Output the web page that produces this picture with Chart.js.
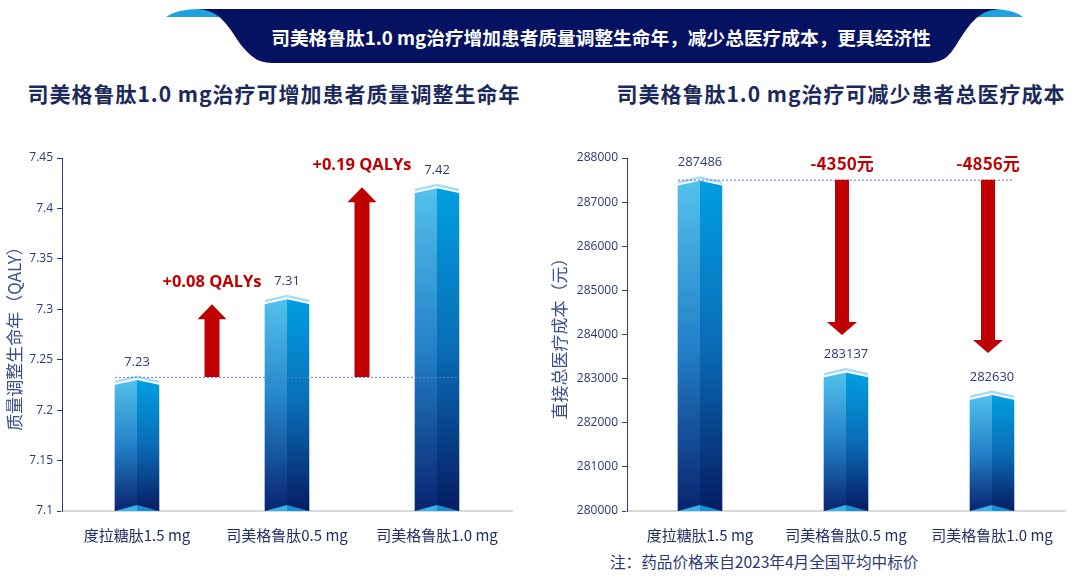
<!DOCTYPE html>
<html>
<head>
<meta charset="utf-8">
<script src="https://cdn.jsdelivr.net/npm/chart.js@4.4.1/dist/chart.umd.min.js"></script>
<style>
body{margin:0;background:#fff;width:1080px;height:582px;position:relative;overflow:hidden;font-family:"Noto Sans CJK SC",sans-serif;}
#banner{position:absolute;left:0;top:0}
.banner-text{position:absolute;left:0;width:1202px;top:24px;text-align:center;color:#fff;font-weight:bold;font-size:18.7px;line-height:26px;}
.title{position:absolute;top:78px;font-weight:bold;font-size:21px;letter-spacing:1px;color:#1b2a5c;line-height:30px;white-space:nowrap;text-align:center;}
.note{position:absolute;left:610px;top:550px;font-size:15.6px;color:#2b3a74;line-height:22px;}
canvas{position:absolute;}
</style>
</head>
<body>
<svg id="banner" width="1080" height="70">
  <path d="M166,17 Q178,8 205,9 L225,17 Z" fill="#1fa3e0"/>
  <path d="M1023,17 Q1012,8 985,9 L965,17 Z" fill="#1fa3e0"/>
  <path d="M198,9 L1000,9 C976,10 968,28 958,42 C950,55 945,63 925,63 L272,63 C256,63 250,55 241,45 C229,28 222,11 198,9 Z" fill="#041261"/>
</svg>
<div class="banner-text">司美格鲁肽1.0 mg治疗增加患者质量调整生命年，减少总医疗成本，更具经济性</div>
<div class="title" style="left:0;width:548px;">司美格鲁肽1.0 mg治疗可增加患者质量调整生命年</div>
<div class="title" style="left:600px;width:482px;">司美格鲁肽1.0 mg治疗可减少患者总医疗成本</div>
<canvas id="qaly" width="530" height="420" style="left:0;top:130px"></canvas>
<canvas id="cost" width="540" height="420" style="left:540px;top:130px"></canvas>
<div class="note">注：药品价格来自2023年4月全国平均中标价</div>

<script>
const categories = ['度拉糖肽1.5 mg', '司美格鲁肽0.5 mg', '司美格鲁肽1.0 mg'];
const qalyValues = [7.23, 7.31, 7.42];
const costValues = [287486, 283137, 282630];
const qalyGains = ['+0.08 QALYs', '+0.19 QALYs'];
const qalyArrowEnds = [7.305, 7.421];
const costSavings = ['-4350元', '-4856元'];
const costArrowEnds = [283990, 283580];

const CJK = '"Noto Sans CJK SC", sans-serif';
const NUM = '"Open Sans", sans-serif';
const NAVY = '#2b3a74';
const RED = '#c00000';

// left half of each bar, gradient from its own top to the axis
function barFill(c) {
    const chart = c.chart;
    const area = chart.chartArea;
    if (!area) return '#1a8ad4';
    const y = chart.scales.y.getPixelForValue(c.raw);
    const g = chart.ctx.createLinearGradient(0, y, 0, area.bottom);
    g.addColorStop(0, '#52c1ec');
    g.addColorStop(0.5, '#2381c8');
    g.addColorStop(1, '#0a2470');
    return g;
}

// right half shading, chevron cap, bottom notch and value label
const barDeco = {
    id: 'barDeco',
    afterDatasetsDraw(chart) {
        const ctx = chart.ctx;
        const meta = chart.getDatasetMeta(0);
        const values = chart.data.datasets[0].data;
        const bottom = chart.chartArea.bottom;
        meta.data.forEach((bar, i) => {
            const x = bar.x, y = bar.y, w = bar.width;
            const base = Math.min(bar.base, bottom);
            const l = x - w / 2, r = x + w / 2, d = 5;
            ctx.save();
            const g = ctx.createLinearGradient(0, y, 0, base);
            g.addColorStop(0, '#009fe1');
            g.addColorStop(0.5, '#0a6cb6');
            g.addColorStop(1, '#061c62');
            ctx.fillStyle = g;
            ctx.fillRect(x, y, w / 2, base - y);
            // cut the top to a chevron
            ctx.fillStyle = '#fff';
            ctx.beginPath();
            ctx.moveTo(l - 1, y - 1); ctx.lineTo(l - 1, y + d); ctx.lineTo(x, y);
            ctx.lineTo(r + 1, y + d); ctx.lineTo(r + 1, y - 1); ctx.closePath();
            ctx.fill();
            // light cap
            ctx.fillStyle = '#a9dcf5';
            ctx.beginPath();
            ctx.moveTo(l, y + d - 2); ctx.lineTo(x, y - 2); ctx.lineTo(r, y + d - 2);
            ctx.lineTo(r, y + d - 4.5); ctx.lineTo(x, y - 4.5); ctx.lineTo(l, y + d - 4.5);
            ctx.closePath();
            ctx.fill();
            // bottom notch
            ctx.fillStyle = '#38b2ea';
            ctx.beginPath();
            ctx.moveTo(l, base); ctx.lineTo(x, base - 6); ctx.lineTo(x, base); ctx.closePath();
            ctx.fill();
            ctx.fillStyle = '#1690d6';
            ctx.beginPath();
            ctx.moveTo(r, base); ctx.lineTo(x, base - 6); ctx.lineTo(x, base); ctx.closePath();
            ctx.fill();
            // value
            ctx.fillStyle = NAVY;
            ctx.font = '13px ' + NUM;
            ctx.textAlign = 'center';
            ctx.textBaseline = 'middle';
            ctx.fillText(String(values[i]), x, y - 18);
            ctx.restore();
        });
    }
};

function arrow(ctx, x, from, to, shaft, head, headLen) {
    const dir = to < from ? -1 : 1;
    const neck = to - dir * headLen;
    ctx.beginPath();
    ctx.moveTo(x - shaft / 2, from);
    ctx.lineTo(x - shaft / 2, neck);
    ctx.lineTo(x - head / 2, neck);
    ctx.lineTo(x, to);
    ctx.lineTo(x + head / 2, neck);
    ctx.lineTo(x + shaft / 2, neck);
    ctx.lineTo(x + shaft / 2, from);
    ctx.closePath();
    ctx.fill();
}

function dotted(ctx, x1, x2, y) {
    ctx.save();
    ctx.strokeStyle = '#5b7fd0';
    ctx.lineWidth = 1;
    ctx.setLineDash([2, 2]);
    ctx.beginPath();
    ctx.moveTo(x1, y + 0.5);
    ctx.lineTo(x2, y + 0.5);
    ctx.stroke();
    ctx.restore();
}

const qalyNotes = {
    id: 'qalyNotes',
    afterDraw(chart) {
        const ctx = chart.ctx;
        const ys = chart.scales.y;
        const bars = chart.getDatasetMeta(0).data;
        const w = bars[0].width;
        const y0 = ys.getPixelForValue(qalyValues[0]) - 3;
        dotted(ctx, bars[0].x - w / 2, bars[2].x + w / 2, y0);
        ctx.save();
        ctx.fillStyle = RED;
        ctx.font = 'bold 16.5px ' + NUM;
        ctx.textAlign = 'center';
        ctx.textBaseline = 'middle';
        qalyArrowEnds.forEach((v, i) => {
            const x = (bars[i].x + bars[i + 1].x) / 2;
            const tip = ys.getPixelForValue(v);
            arrow(ctx, x, y0, tip, 15, 29, 15);
            ctx.fillText(qalyGains[i], x, tip - 22);
        });
        ctx.restore();
    }
};

const costNotes = {
    id: 'costNotes',
    afterDraw(chart) {
        const ctx = chart.ctx;
        const ys = chart.scales.y;
        const bars = chart.getDatasetMeta(0).data;
        const w = bars[0].width;
        const y0 = ys.getPixelForValue(costValues[0]) - 1;
        dotted(ctx, bars[0].x - w / 2, bars[2].x + w / 2, y0);
        ctx.save();
        ctx.fillStyle = RED;
        ctx.font = 'bold 17px ' + CJK;
        ctx.textAlign = 'center';
        ctx.textBaseline = 'middle';
        costArrowEnds.forEach((v, i) => {
            const x = bars[i + 1].x - 4;
            const tip = ys.getPixelForValue(v);
            arrow(ctx, x, y0, tip, 14, 30, 13);
            ctx.fillText(costSavings[i], x, y0 - 16);
        });
        ctx.restore();
    }
};

function makeChart(id, values, min, max, step, title, padL, padR, axisW, notes) {
    return new Chart(document.getElementById(id), {
        type: 'bar',
        data: {
            labels: categories,
            datasets: [{
                data: values,
                backgroundColor: barFill,
                borderWidth: 0,
                barThickness: 44
            }]
        },
        options: {
            responsive: false,
            animation: false,
            layout: {padding: {left: padL, right: padR, top: 28, bottom: 0}},
            plugins: {legend: {display: false}, tooltip: {enabled: false}},
            scales: {
                x: {
                    grid: {display: false},
                    border: {color: '#d9d9d9', width: 2},
                    ticks: {color: '#1f2f63', font: {size: 15, family: CJK}, padding: 7},
                    afterFit(s) { s.height = 39; }
                },
                y: {
                    min: min,
                    max: max,
                    ticks: {
                        stepSize: step, color: NAVY, font: {size: 12, family: NUM}, padding: 4,
                        callback: v => String(Math.round(v * 100) / 100)
                    },
                    grid: {drawOnChartArea: false, color: '#2a3d7c', tickLength: 5},
                    border: {color: '#2a3d7c'},
                    title: {display: true, text: title, color: '#3a4f8f', font: {size: 17, family: CJK}, padding: 2},
                    afterFit(s) { s.width = axisW; }
                }
            }
        },
        plugins: [barDeco, notes]
    });
}

makeChart('qaly', qalyValues, 7.1, 7.45, 0.05, '质量调整生命年（QALY）', 2, 18, 60, qalyNotes);
makeChart('cost', costValues, 280000, 288000, 1000, '直接总医疗成本（元）', 7, 15, 80, costNotes);
</script>
</body>
</html>
